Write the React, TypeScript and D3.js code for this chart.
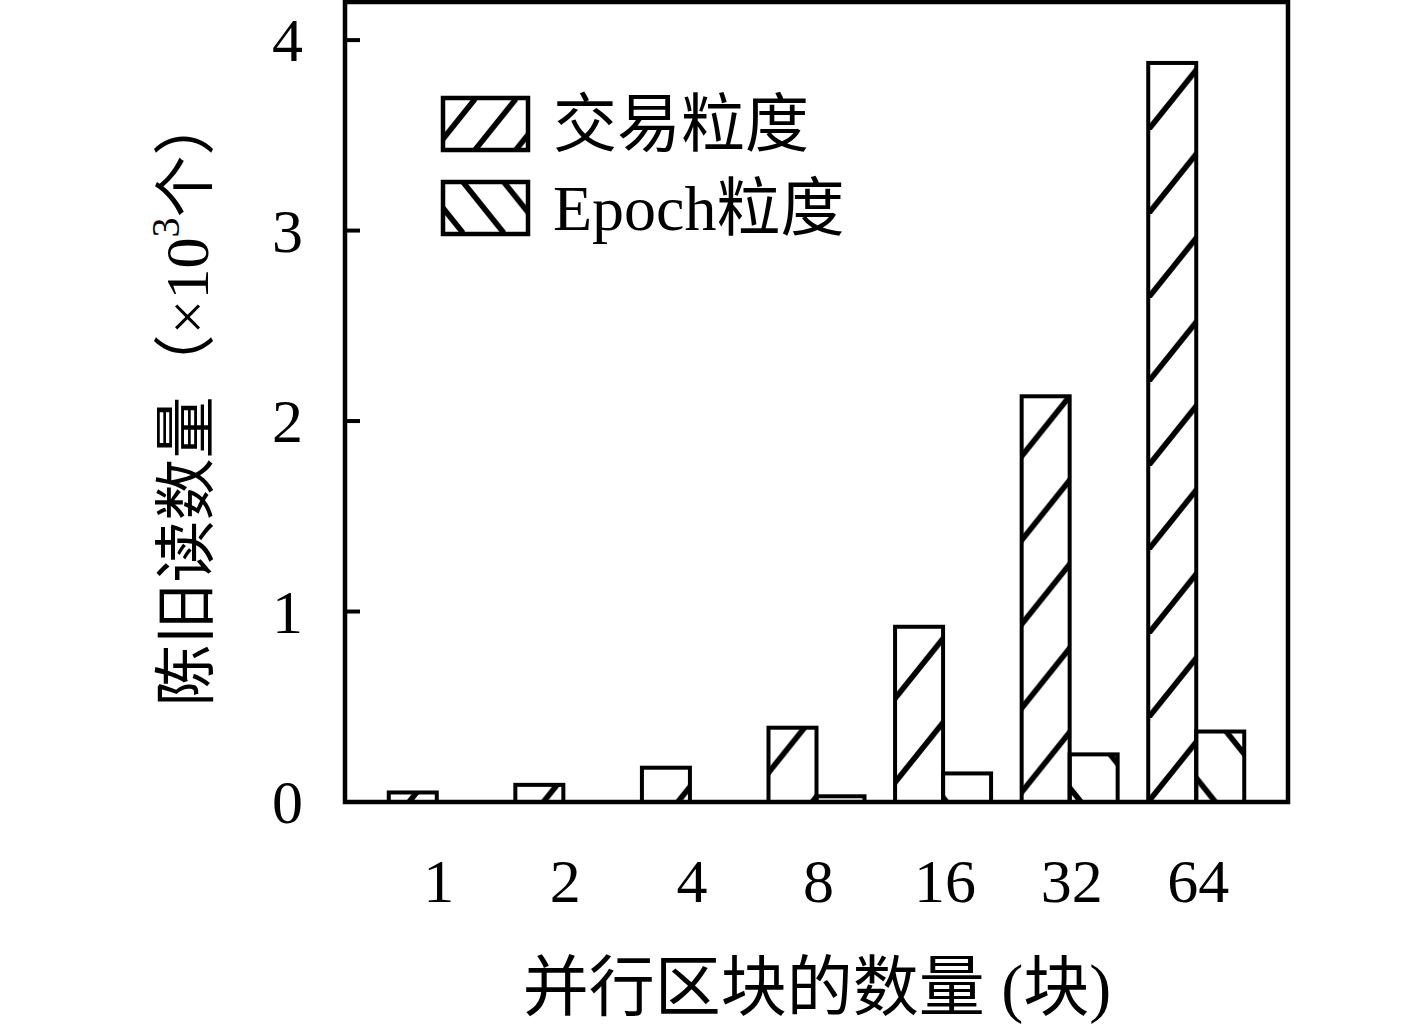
import React from "react";
import * as d3 from "d3";

const categories = ["1", "2", "4", "8", "16", "32", "64"];
const txValues = [0.05, 0.09, 0.18, 0.39, 0.92, 2.13, 3.88];
const epochValues = [0, 0, 0, 0.03, 0.15, 0.25, 0.37];
const yTicks = [0, 1, 2, 3, 4];
const seriesNames = ["交易粒度", "Epoch粒度"];
const xTitle = "并行区块的数量 (块)";

const W = 1417;
const H = 1025;
const plot = { left: 345, right: 1288, top: 2, bottom: 802 };
const BW = 48;
const FONT = "'Liberation Serif', 'Noto Sans CJK SC', serif";
const HATCH_W = 5.5;

export default function App() {
  const x = d3
    .scalePoint<string>()
    .domain(categories)
    .range([plot.left, plot.right])
    .padding(0.725);
  const y = d3.scaleLinear().domain([0, 4.2]).range([plot.bottom, plot.top]);

  // hatch geometry (global, anchored at the bottom-left corner of the last bar)
  const P = 84;
  const slope = 1.25;
  const TW = P / slope;
  const ax = (x(categories[categories.length - 1]) as number) - BW;
  const ay = y(0);

  const PL = 51;
  const TWL = PL / slope;
  const lg1 = { x: 443, y: 98, w: 85, h: 52 };
  const lg2 = { x: 443, y: 182, w: 85, h: 52 };

  return (
    <svg
      width={W}
      height={H}
      style={{ position: "absolute", left: 0, top: 0, background: "#fff" }}
      fontFamily={FONT}
    >
      <defs>
        <pattern
          id="hf"
          patternUnits="userSpaceOnUse"
          x={ax}
          y={ay - P}
          width={TW}
          height={P}
        >
          <path
            d={`M0,${P}L${TW},0M${-TW},${P}L0,0M${TW},${P}L${2 * TW},0`}
            stroke="#000"
            strokeWidth={HATCH_W}
          />
        </pattern>
        <pattern
          id="hb"
          patternUnits="userSpaceOnUse"
          x={ax}
          y={ay}
          width={TW}
          height={P}
        >
          <path
            d={`M0,0L${TW},${P}M${-TW},0L0,${P}M${TW},0L${2 * TW},${P}`}
            stroke="#000"
            strokeWidth={HATCH_W}
          />
        </pattern>
        <pattern
          id="lf"
          patternUnits="userSpaceOnUse"
          x={lg1.x + 32}
          y={lg1.y + lg1.h - PL}
          width={TWL}
          height={PL}
        >
          <path
            d={`M0,${PL}L${TWL},0M${-TWL},${PL}L0,0M${TWL},${PL}L${2 * TWL},0`}
            stroke="#000"
            strokeWidth={HATCH_W}
          />
        </pattern>
        <pattern
          id="lb"
          patternUnits="userSpaceOnUse"
          x={lg2.x + 20}
          y={lg2.y}
          width={TWL}
          height={PL}
        >
          <path
            d={`M0,0L${TWL},${PL}M${-TWL},0L0,${PL}M${TWL},0L${2 * TWL},${PL}`}
            stroke="#000"
            strokeWidth={HATCH_W}
          />
        </pattern>
      </defs>

      {/* bars */}
      {categories.map((c, i) => {
        const cx = x(c) as number;
        return (
          <g key={c}>
            <rect
              x={cx - BW}
              y={y(txValues[i])}
              width={BW}
              height={y(0) - y(txValues[i])}
              fill="url(#hf)"
              stroke="#000"
              strokeWidth={4}
            />
            <rect
              x={cx}
              y={y(epochValues[i])}
              width={BW}
              height={y(0) - y(epochValues[i])}
              fill="url(#hb)"
              stroke="#000"
              strokeWidth={4}
            />
          </g>
        );
      })}

      {/* frame */}
      <rect
        x={plot.left}
        y={plot.top}
        width={plot.right - plot.left}
        height={plot.bottom - plot.top}
        fill="none"
        stroke="#000"
        strokeWidth={4.5}
      />

      {/* y ticks */}
      {yTicks.map((t) => (
        <g key={t}>
          <line
            x1={plot.left}
            x2={plot.left + 15}
            y1={y(t)}
            y2={y(t)}
            stroke="#000"
            strokeWidth={4}
          />
          <text
            x={303}
            y={y(t)}
            textAnchor="end"
            dominantBaseline="central"
            fontSize={62}
          >
            {t}
          </text>
        </g>
      ))}

      {/* x tick labels */}
      {categories.map((c) => (
        <text
          key={c}
          x={(x(c) as number) + 2}
          y={902}
          textAnchor="middle"
          fontSize={62}
        >
          {c}
        </text>
      ))}

      {/* axis titles */}
      <text x={817} y={1010} textAnchor="middle" fontSize={66}>
        {xTitle}
      </text>
      <text
        transform="translate(187,400) rotate(-90)"
        textAnchor="middle"
        dominantBaseline="central"
        fontSize={62}
      >
        陈旧读数量（×10
        <tspan fontSize={40} dy={-22}>
          3
        </tspan>
        <tspan dy={22}>个）</tspan>
      </text>

      {/* legend */}
      <rect
        x={lg1.x}
        y={lg1.y}
        width={lg1.w}
        height={lg1.h}
        fill="url(#lf)"
        stroke="#000"
        strokeWidth={4.5}
      />
      <text x={553} y={lg1.y + lg1.h / 2} dominantBaseline="central" fontSize={64}>
        {seriesNames[0]}
      </text>
      <rect
        x={lg2.x}
        y={lg2.y}
        width={lg2.w}
        height={lg2.h}
        fill="url(#lb)"
        stroke="#000"
        strokeWidth={4.5}
      />
      <text x={553} y={lg2.y + lg2.h / 2} dominantBaseline="central" fontSize={64}>
        {seriesNames[1]}
      </text>
    </svg>
  );
}
